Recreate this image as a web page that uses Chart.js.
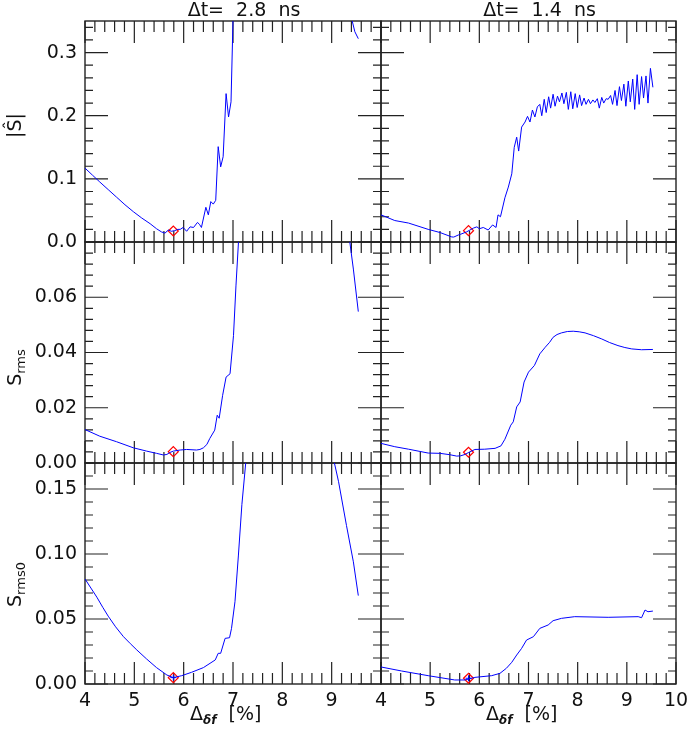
<!DOCTYPE html>
<html>
<head>
<meta charset="utf-8">
<script src="https://cdn.jsdelivr.net/npm/chart.js@4.4.1/dist/chart.umd.min.js"></script>
<style>
  html, body { margin: 0; padding: 0; background: #fff; }
  #wrap { position: relative; width: 687px; height: 729px; }
  #wrap canvas { position: absolute; left: 0; top: 0; }
</style>
</head>
<body>
<div id="wrap"></div>
<script>
// Tick values / labels
const xTicksLeft = [4, 5, 6, 7, 8, 9];
const xTicksRight = [4, 5, 6, 7, 8, 9, 10];
const yTicksS = [0, 0.1, 0.2, 0.3];
const yLabelsS = ["0.0", "0.1", "0.2", "0.3"];
const yTicksRms = [0, 0.02, 0.04, 0.06];
const yLabelsRms = ["0.00", "0.02", "0.04", "0.06"];
const yTicksRms0 = [0, 0.05, 0.10, 0.15];
const yLabelsRms0 = ["0.00", "0.05", "0.10", "0.15"];

// |S|, dt = 2.8 ns (values above the frame run off the top)
const absS28X = [4.00, 4.15, 4.30, 4.47, 4.64, 4.81, 4.98, 5.15, 5.32, 5.45, 5.55, 5.62, 5.69, 5.75, 5.82, 5.88, 5.93, 5.99, 6.06, 6.13, 6.20, 6.28, 6.32, 6.36, 6.45, 6.50, 6.55, 6.60, 6.65, 6.70, 6.75, 6.80, 6.86, 6.91, 6.96, 7.00, 7.05, 7.15, 9.30, 9.38, 9.41, 9.47, 9.54];
const absS28Y = [0.117, 0.106, 0.095, 0.083, 0.071, 0.059, 0.048, 0.038, 0.029, 0.021, 0.016, 0.014, 0.019, 0.017, 0.018, 0.020, 0.020, 0.023, 0.017, 0.024, 0.023, 0.031, 0.028, 0.023, 0.055, 0.043, 0.064, 0.060, 0.066, 0.151, 0.119, 0.135, 0.235, 0.198, 0.222, 0.351, 0.55, 0.9, 0.9, 0.42, 0.352, 0.333, 0.322];

// |S|, dt = 1.4 ns
const absS14X = [4.00, 4.28, 4.56, 4.96, 5.20, 5.44, 5.48, 5.57, 5.61, 5.74, 5.88, 5.95, 6.00, 6.08, 6.18, 6.27, 6.34, 6.38, 6.43, 6.52, 6.59, 6.66, 6.71, 6.76, 6.80, 6.86, 6.93, 6.98, 7.03, 7.08, 7.13, 7.18, 7.23,
  7.27, 7.32, 7.36, 7.41, 7.45, 7.50, 7.54, 7.59, 7.63, 7.68, 7.72, 7.77, 7.81, 7.86, 7.90, 7.95, 7.99, 8.04, 8.08, 8.13, 8.17, 8.22, 8.26, 8.31, 8.35, 8.40, 8.44, 8.49, 8.53, 8.58, 8.62, 8.67, 8.71, 8.76, 8.80, 8.85, 8.89, 8.94, 8.98, 9.03, 9.07, 9.12, 9.16, 9.21, 9.25, 9.30, 9.34, 9.39, 9.43, 9.48, 9.53];
const absS14Y = [0.043, 0.034, 0.030, 0.020, 0.015, 0.008, 0.0078, 0.011, 0.012, 0.016, 0.022, 0.024, 0.021, 0.023, 0.019, 0.027, 0.023, 0.043, 0.040, 0.070, 0.087, 0.108, 0.150, 0.166, 0.144, 0.182, 0.190, 0.199, 0.190, 0.209, 0.198, 0.214, 0.218,
  0.200, 0.226, 0.205, 0.230, 0.212, 0.234, 0.215, 0.231, 0.222, 0.236, 0.219, 0.237, 0.210, 0.238, 0.211, 0.235, 0.213, 0.233, 0.216, 0.228, 0.218, 0.226, 0.219, 0.225, 0.221, 0.227, 0.212, 0.229, 0.220, 0.227, 0.226, 0.232, 0.218, 0.240, 0.216, 0.246, 0.224, 0.250, 0.215, 0.255, 0.222, 0.258, 0.210, 0.265, 0.218, 0.262, 0.228, 0.263, 0.220, 0.275, 0.245];

// S_rms, dt = 2.8 ns
const rms28X = [4.00, 4.30, 4.64, 4.98, 5.25, 5.45, 5.59, 5.66, 5.72, 5.79, 5.93, 6.06, 6.26, 6.33, 6.40, 6.47, 6.53, 6.63, 6.68, 6.72, 6.79, 6.86, 6.94, 7.01, 7.06, 7.11, 7.16, 7.30, 9.25, 9.33, 9.37, 9.44, 9.54];
const rms28Y = [0.0121, 0.0097, 0.0077, 0.0055, 0.0043, 0.0035, 0.0029, 0.0031, 0.0038, 0.0043, 0.0047, 0.0049, 0.0047, 0.0049, 0.0055, 0.0067, 0.0089, 0.0119, 0.0173, 0.0162, 0.0245, 0.0311, 0.0323, 0.0461, 0.0641, 0.0797, 0.11, 0.2, 0.2, 0.09, 0.0797, 0.0702, 0.0548];

// S_rms, dt = 1.4 ns
const rms14X = [4.00, 4.28, 4.56, 4.96, 5.20, 5.40, 5.54, 5.62, 5.71, 5.78, 5.91, 6.11, 6.32, 6.44, 6.52, 6.64, 6.69, 6.76, 6.83, 6.91, 7.00, 7.12, 7.23, 7.34, 7.43, 7.50, 7.58, 7.67, 7.79, 7.91, 8.03, 8.15, 8.32, 8.49, 8.65, 8.82, 8.96, 9.10, 9.30, 9.53];
const rms14Y = [0.0071, 0.0059, 0.0050, 0.0036, 0.0035, 0.0030, 0.0025, 0.0026, 0.0031, 0.0038, 0.0049, 0.0050, 0.0053, 0.0062, 0.0086, 0.0137, 0.0149, 0.0203, 0.0221, 0.0293, 0.0329, 0.0353, 0.0395, 0.0419, 0.0437, 0.0455, 0.0465, 0.0471, 0.0476, 0.0477, 0.0475, 0.0471, 0.0461, 0.0449, 0.0436, 0.0425, 0.0418, 0.0413, 0.0410, 0.0411];

// S_rms0, dt = 2.8 ns
const rms0_28X = [4.00, 4.12, 4.24, 4.36, 4.47, 4.62, 4.78, 4.92, 5.05, 5.25, 5.45, 5.66, 5.79, 5.96, 6.16, 6.40, 6.64, 6.70, 6.75, 6.84, 6.93, 6.97, 7.04, 7.11, 7.18, 7.26, 7.32, 7.45, 8.90, 9.00, 9.05, 9.14, 9.30, 9.44, 9.54];
const rms0_28Y = [0.0808, 0.0738, 0.0668, 0.0590, 0.0522, 0.0440, 0.0364, 0.0310, 0.0262, 0.0192, 0.0126, 0.0069, 0.0049, 0.0064, 0.0090, 0.0126, 0.0185, 0.0236, 0.0236, 0.0351, 0.0356, 0.0428, 0.0633, 0.0992, 0.138, 0.171, 0.20, 0.3, 0.3, 0.185, 0.171, 0.1556, 0.122, 0.094, 0.068];

// S_rms0, dt = 1.4 ns
const rms0_14X = [4.00, 4.42, 4.96, 5.50, 5.71, 5.91, 6.25, 6.42, 6.55, 6.66, 6.76, 6.86, 6.96, 7.10, 7.23, 7.40, 7.50, 7.67, 7.94, 8.62, 9.23, 9.30, 9.37, 9.43, 9.53];
const rms0_14Y = [0.0131, 0.0100, 0.0064, 0.0031, 0.0031, 0.0051, 0.0064, 0.0082, 0.0121, 0.0167, 0.0223, 0.0274, 0.0338, 0.0364, 0.0428, 0.0454, 0.0487, 0.0505, 0.0518, 0.0513, 0.0518, 0.0510, 0.0569, 0.0556, 0.0561];

// red diamond = minimum
const minX = [5.79, 5.78];
const minS = [0.0174, 0.018];
const minRms = [0.0041, 0.0039];
const minRms0 = [0.0049, 0.0044];

// page layout (px)
const W = 687, H = 729;
const cols = [{ l: 85, r: 381 }, { l: 381, r: 676 }];
const rows = [{ t: 21, b: 242 }, { t: 242, b: 463 }, { t: 463, b: 684 }];
const FONT = "DejaVu Sans";
const INK = "#111";

function drawRich(ctx, parts, x, y) {
    // parts: [text, size, dy, style]
    let cx = x;
    parts.forEach(p => {
        ctx.font = (p[3] || "") + " " + p[1] + "px " + FONT;
        ctx.fillText(p[0], cx, y + p[2]);
        cx += ctx.measureText(p[0]).width;
    });
}

function richWidth(ctx, parts) {
    let w = 0;
    parts.forEach(p => {
        ctx.font = (p[3] || "") + " " + p[1] + "px " + FONT;
        w += ctx.measureText(p[0]).width;
    });
    return w;
}

// frame with IDL style inward ticks on all four sides
const idlFrame = {
    id: "idlFrame",
    beforeDatasetsDraw(chart, args, opts) {
        const { ctx, chartArea: a, scales: { x, y } } = chart;
        ctx.save();
        ctx.strokeStyle = "#222";
        ctx.lineWidth = 1.2;
        ctx.beginPath();
        for (let i = 0; i <= 30; i++) {
            const px = x.getPixelForValue(4 + i * 0.2);
            const len = i % 5 === 0 ? 22 : 11;
            ctx.moveTo(px, a.bottom); ctx.lineTo(px, a.bottom - len);
            ctx.moveTo(px, a.top); ctx.lineTo(px, a.top + len);
        }
        for (let i = 0; i * opts.yMinor <= opts.yMax + 1e-9; i++) {
            const py = y.getPixelForValue(i * opts.yMinor);
            const len = i % 5 === 0 ? 23 : 8;
            ctx.moveTo(a.left, py); ctx.lineTo(a.left + len, py);
            ctx.moveTo(a.right, py); ctx.lineTo(a.right - len, py);
        }
        ctx.stroke();
        ctx.lineWidth = 1.4;
        ctx.strokeRect(a.left, a.top, a.right - a.left, a.bottom - a.top);
        ctx.restore();
    },
    afterDraw(chart, args, opts) {
        const { ctx, chartArea: a } = chart;
        ctx.save();
        ctx.fillStyle = INK;
        ctx.textBaseline = "alphabetic";
        if (opts.title) {
            ctx.font = "19px " + FONT;
            ctx.textAlign = "center";
            ctx.fillText(opts.title, (a.left + a.right) / 2 + 11, 16);
        }
        ctx.textAlign = "left";
        if (opts.yTitle) {
            ctx.save();
            ctx.translate(14, (a.top + a.bottom) / 2 + opts.yShift);
            ctx.rotate(-Math.PI / 2);
            const w = richWidth(ctx, opts.yTitle);
            drawRich(ctx, opts.yTitle, -w / 2, 7);
            ctx.restore();
        }
        if (opts.xTitle) {
            drawRich(ctx, opts.xTitle, a.left + 105, 720);
        }
        ctx.restore();
    }
};

const wrap = document.getElementById("wrap");

function makePanel(col, row, xs, ys, mx, my, yMax, yMinor, yTicks, yLabels, xTicks, extra) {
    const cv = document.createElement("canvas");
    cv.width = W; cv.height = H;
    wrap.appendChild(cv);

    const c = cols[col], r = rows[row];
    const showY = col === 0, showX = row === 2;
    const pad = {
        left: showY ? 0 : c.l,
        right: W - c.r,
        top: r.t,
        bottom: showX ? 0 : H - r.b
    };

    const datasets = [
        {
            data: xs.map((v, i) => ({ x: v, y: ys[i] })),
            borderColor: "#0000ff",
            borderWidth: 1,
            pointRadius: 0,
            tension: 0
        },
        {
            data: [{ x: mx, y: my }],
            showLine: false,
            pointStyle: "rectRot",
            pointRadius: 5,
            borderColor: "#ff0000",
            backgroundColor: "rgba(0,0,0,0)",
            borderWidth: 1.2
        }
    ];
    if (row === 2) {
        datasets.push({
            data: [{ x: mx, y: my }],
            showLine: false,
            pointStyle: "cross",
            pointRadius: 3,
            borderColor: "#0000ff",
            borderWidth: 1
        });
    }

    new Chart(cv, {
        type: "line",
        data: { datasets: datasets },
        options: {
            responsive: false,
            animation: false,
            events: [],
            layout: { padding: pad },
            plugins: {
                legend: { display: false },
                tooltip: { enabled: false },
                idlFrame: Object.assign({ yMax: yMax, yMinor: yMinor }, extra)
            },
            scales: {
                x: {
                    type: "linear",
                    min: 4,
                    max: 10,
                    display: showX,
                    grid: { display: false, drawTicks: false },
                    border: { display: false },
                    afterBuildTicks: s => { s.ticks = xTicks.map(v => ({ value: v })); },
                    afterFit: s => {
                        if (!showX) return;
                        s.height = H - r.b; s.paddingLeft = 0; s.paddingRight = 0;
                    },
                    ticks: {
                        autoSkip: false,
                        maxRotation: 0,
                        padding: 6,
                        color: INK,
                        font: { family: FONT, size: 19 },
                        callback: v => String(v)
                    }
                },
                y: {
                    type: "linear",
                    min: 0,
                    max: yMax,
                    display: showY,
                    grid: { display: false, drawTicks: false },
                    border: { display: false },
                    afterBuildTicks: s => { s.ticks = yTicks.map(v => ({ value: v })); },
                    afterFit: s => {
                        if (!showY) return;
                        s.width = c.l; s.paddingTop = 0; s.paddingBottom = 0;
                    },
                    ticks: {
                        autoSkip: false,
                        padding: 8,
                        color: INK,
                        font: { family: FONT, size: 19 },
                        callback: (v, i) => yLabels[i]
                    }
                }
            }
        },
        plugins: [idlFrame]
    });
}

const xTitle = [["\u0394", 19, 0], ["\u03b4f", 12, 4, "italic bold"], ["  [%]", 19, 0]];

makePanel(0, 0, absS28X, absS28Y, minX[0], minS[0], 0.35, 0.02, yTicksS, yLabelsS, xTicksLeft,
    { title: "\u0394t=  2.8  ns", yTitle: [["|\u015c|", 19, 0]], yShift: -6 });
makePanel(1, 0, absS14X, absS14Y, minX[1], minS[1], 0.35, 0.02, yTicksS, yLabelsS, xTicksRight,
    { title: "\u0394t=  1.4  ns" });
makePanel(0, 1, rms28X, rms28Y, minX[0], minRms[0], 0.08, 0.004, yTicksRms, yLabelsRms, xTicksLeft,
    { yTitle: [["S", 19, 0], ["rms", 13, 4]], yShift: 15 });
makePanel(1, 1, rms14X, rms14Y, minX[1], minRms[1], 0.08, 0.004, yTicksRms, yLabelsRms, xTicksRight, {});
makePanel(0, 2, rms0_28X, rms0_28Y, minX[0], minRms0[0], 0.17, 0.01, yTicksRms0, yLabelsRms0, xTicksLeft,
    { yTitle: [["S", 19, 0], ["rms0", 13, 4]], yShift: 11, xTitle: xTitle });
makePanel(1, 2, rms0_14X, rms0_14Y, minX[1], minRms0[1], 0.17, 0.01, yTicksRms0, yLabelsRms0, xTicksRight,
    { xTitle: xTitle });
</script>
</body>
</html>
